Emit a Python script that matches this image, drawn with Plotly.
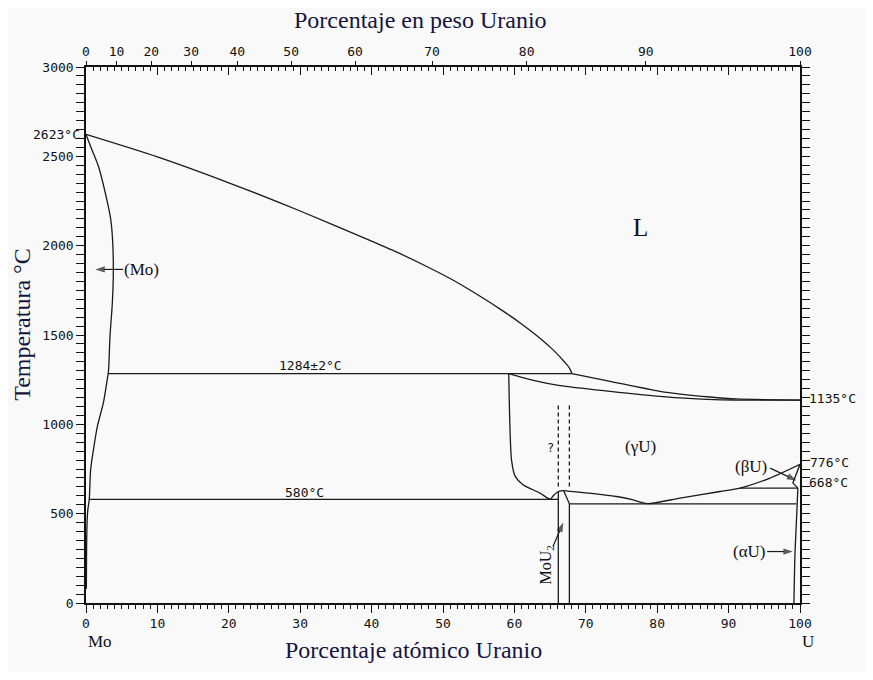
import plotly.graph_objects as go

# ---------------- data (atomic % U, temperature °C) ----------------
liq_left_x = [0, 10, 20, 30, 40, 44, 48, 51, 54, 58, 61, 63.5, 65.5, 67, 67.7, 68.05]
liq_left_y = [2623, 2497, 2352, 2194, 2025, 1955, 1878, 1816, 1746, 1645, 1562,
              1485, 1414, 1350, 1316, 1284]

liq_right_x = [68.05, 73.4, 80.4, 87.4, 91.1, 100]
liq_right_y = [1284, 1241, 1185, 1153, 1142, 1136]

sol_right_x = [59.2, 62.5, 66.4, 73.4, 80.4, 87.9, 91.0, 100]
sol_right_y = [1284, 1248, 1217, 1185, 1157, 1138, 1136, 1136]

mo_hi_x = [0, 0.8, 1.72, 2.9, 3.46, 3.69, 3.83, 3.69, 3.36, 3.17, 3.1]
mo_hi_y = [2623, 2540, 2447, 2260, 2148, 2054, 1867, 1681, 1493, 1307, 1284]
mo_lo_x = [3.1, 2.43, 1.6, 1.05, 0.65, 0.46, 0.25, 0.15, 0.08, 0.05]
mo_lo_y = [1284, 1120, 990, 860, 746, 581, 520, 450, 300, 80]

gamma_x = [59.2, 59.3, 59.4, 59.6, 60.1, 61.2, 63.6, 65.0, 65.5, 66.0, 66.5,
           67.2, 69.6, 72.0, 74.3, 76.5, 78.6, 83.2, 88.8, 91.6, 95.8, 100]
gamma_y = [1284, 1100, 950, 800, 710, 662, 615, 581, 603, 620, 628,
           628, 618, 608, 596, 578, 556, 587, 624, 643, 699, 776]

mou2_left_x = [66.15, 66.15]
mou2_left_y = [0, 622]
mou2_right_x = [67.7, 67.7, 66.9]
mou2_right_y = [0, 555, 628]

iso1284_x = [3.1, 68.05]
iso1284_y = [1284, 1284]
iso580_x = [0.46, 66.15]
iso580_y = [580, 580]
iso555_x = [67.7, 99.5]
iso555_y = [555, 555]
iso643_x = [91.6, 99.7]
iso643_y = [643, 643]

beta_x = [100, 99.0, 99.7]
beta_y = [776, 672, 643]
alpha_x = [99.7, 99.55, 99.3, 99.15]
alpha_y = [643, 500, 280, 0]

dash1_x = [66.15, 66.15]
dash2_x = [67.7, 67.7]
dash_y = [652, 1110]

# arrows: (tail x, tail y, head x, head y)
arrow_mo = [5.2, 1867, 1.3, 1867]
arrow_beta = [95.8, 755, 99.5, 686]
arrow_alpha = [95.4, 288, 99.0, 288]
arrow_mou2 = [65.4, 316, 66.85, 450]

wt_labels = [0, 10, 20, 30, 40, 50, 60, 70, 80, 90, 100]
at_ticks = [0, 10, 20, 30, 40, 50, 60, 70, 80, 90, 100]
temp_ticks = [0, 500, 1000, 1500, 2000, 2500, 3000]

M_MO, M_U = 95.95, 238.03


def wt_to_at(w):
    a = w / M_U
    b = (100 - w) / M_MO
    return 100 * a / (a + b)


INK = "#1a1a1a"
LINE = dict(color=INK, width=1.3)
fig = go.Figure()


def add_line(xs, ys, dash=None, smooth=False):
    ln = dict(LINE)
    if dash:
        ln["dash"] = dash
    if smooth:
        ln["shape"] = "spline"
        ln["smoothing"] = 0.7
    fig.add_trace(go.Scatter(x=xs, y=ys, mode="lines", line=ln,
                             hoverinfo="skip", showlegend=False))


def add_arrow(a):
    fig.add_trace(go.Scatter(
        x=[a[0], a[2]], y=[a[1], a[3]], mode="lines+markers",
        line=dict(color=INK, width=1.2),
        marker=dict(symbol="arrow", size=[0, 10], angleref="previous",
                    color=INK, line=dict(width=0)),
        hoverinfo="skip", showlegend=False))


add_line(liq_left_x, liq_left_y, smooth=True)
add_line(liq_right_x, liq_right_y, smooth=True)
add_line(sol_right_x, sol_right_y, smooth=True)
add_line(mo_hi_x, mo_hi_y, smooth=True)
add_line(mo_lo_x, mo_lo_y, smooth=True)
add_line(gamma_x, gamma_y, smooth=True)
add_line(mou2_left_x, mou2_left_y)
add_line(mou2_right_x, mou2_right_y)
add_line(iso1284_x, iso1284_y)
add_line(iso580_x, iso580_y)
add_line(iso555_x, iso555_y)
add_line(iso643_x, iso643_y)
add_line(beta_x, beta_y)
add_line(alpha_x, alpha_y, smooth=True)
add_line(dash1_x, dash_y, dash="4px,3px")
add_line(dash2_x, dash_y, dash="4px,3px")
for a in (arrow_mo, arrow_beta, arrow_alpha, arrow_mou2):
    add_arrow(a)

# dummy traces for extra axes
fig.add_trace(go.Scatter(x=[0, 100], y=[0, 0], xaxis="x2", mode="lines",
                         line=dict(width=0), hoverinfo="skip", showlegend=False))
fig.add_trace(go.Scatter(x=[0, 100], y=[0, 0], xaxis="x3", mode="lines",
                         line=dict(width=0), hoverinfo="skip", showlegend=False))

TICKFONT = dict(family="DejaVu Sans Mono", size=13, color="#111")
MONO = "DejaVu Sans Mono"
SERIF = "Liberation Serif"
TITLE_COLOR = "#15153d"

fig.update_layout(
    width=857, height=664,
    margin=dict(l=78, r=65, t=59, b=69),
    paper_bgcolor="#f9f9f9", plot_bgcolor="#f9f9f9",
    xaxis=dict(range=[0, 100], tickvals=at_ticks, ticks="outside", ticklen=8,
               tickwidth=1.3, tickcolor="#111",
               minor=dict(dtick=1, tick0=0, ticks="outside", ticklen=4,
                          tickcolor="#111", tickwidth=1),
               showline=True, linecolor="#111", linewidth=1.5,
               showgrid=False, zeroline=False, tickfont=TICKFONT),
    xaxis2=dict(overlaying="x", side="top", range=[0, 100], tickmode="array",
                tickvals=[wt_to_at(w) for w in wt_labels],
                ticktext=[str(w) for w in wt_labels],
                ticks="outside", ticklen=5, tickwidth=1.3, tickcolor="#111",
                showline=False, showgrid=False, zeroline=False,
                tickfont=TICKFONT),
    xaxis3=dict(overlaying="x", side="top", range=[0, 100], tickvals=at_ticks,
                ticks="inside", ticklen=8, tickwidth=1.3, tickcolor="#111",
                minor=dict(dtick=1, tick0=0, ticks="inside", ticklen=4,
                           tickcolor="#111", tickwidth=1),
                showticklabels=False, showline=True, linecolor="#111",
                linewidth=1.5, showgrid=False, zeroline=False),
    yaxis=dict(range=[0, 3000], tickvals=temp_ticks, ticks="outside",
               ticklen=8, tickwidth=1.3, tickcolor="#111",
               minor=dict(dtick=50, tick0=0, ticks="outside", ticklen=4,
                          tickcolor="#111", tickwidth=1),
               showline=True, linecolor="#111", linewidth=1.5,
               mirror="allticks", showgrid=False, zeroline=False,
               tickfont=TICKFONT),
)

ann = []


def text(x, y, t, size=13, family=MONO, xanchor="center",
         yanchor="middle", xref="x", yref="y", angle=0, color="#111",
         xshift=0):
    ann.append(dict(x=x, y=y, text=t, showarrow=False, xref=xref, yref=yref,
                    xanchor=xanchor, yanchor=yanchor, textangle=angle,
                    xshift=xshift,
                    font=dict(family=family, size=size, color=color)))


# paper coords: plot area 714 x 536 px
text(0.468, 1.0877, "Porcentaje en peso Uranio", size=24, family=SERIF,
     xref="paper", yref="paper", color=TITLE_COLOR)
text(0.459, -0.0877, "Porcentaje atómico Uranio", size=24, family=SERIF,
     xref="paper", yref="paper", color=TITLE_COLOR)
text(-0.0896, 0.519, "Temperatura °C", size=24, family=SERIF,
     xref="paper", yref="paper", angle=-90, color=TITLE_COLOR)
text(0.0196, -0.0709, "Mo", size=17, family=SERIF, xref="paper", yref="paper")
text(1.0112, -0.0709, "U", size=17, family=SERIF, xref="paper", yref="paper")

# temperature labels
text(0, 2623, "2623°C", xanchor="right", xshift=-4)
text(100, 1142, "1135°C", xanchor="left", xshift=7)
text(100, 787, "776°C", xanchor="left", xshift=8)
text(100, 677, "668°C", xanchor="left", xshift=7)
text(31.4, 1329, "1284±2°C")
text(30.6, 621, "580°C")
text(65.0, 867, "?", size=12)

# phase labels
text(77.6, 2103, "L", size=25, family=SERIF)
text(77.7, 877, "(γU)", size=17, family=SERIF)
text(7.8, 1867, "(Mo)", size=17, family=SERIF)
text(93.2, 764, "(βU)", size=17, family=SERIF)
text(92.9, 288, "(αU)", size=17, family=SERIF)
text(64.5, 213, "MoU<sub>2</sub>", size=16, family=SERIF, angle=-90)

fig.update_layout(annotations=ann)
fig.write_html("out.html")
